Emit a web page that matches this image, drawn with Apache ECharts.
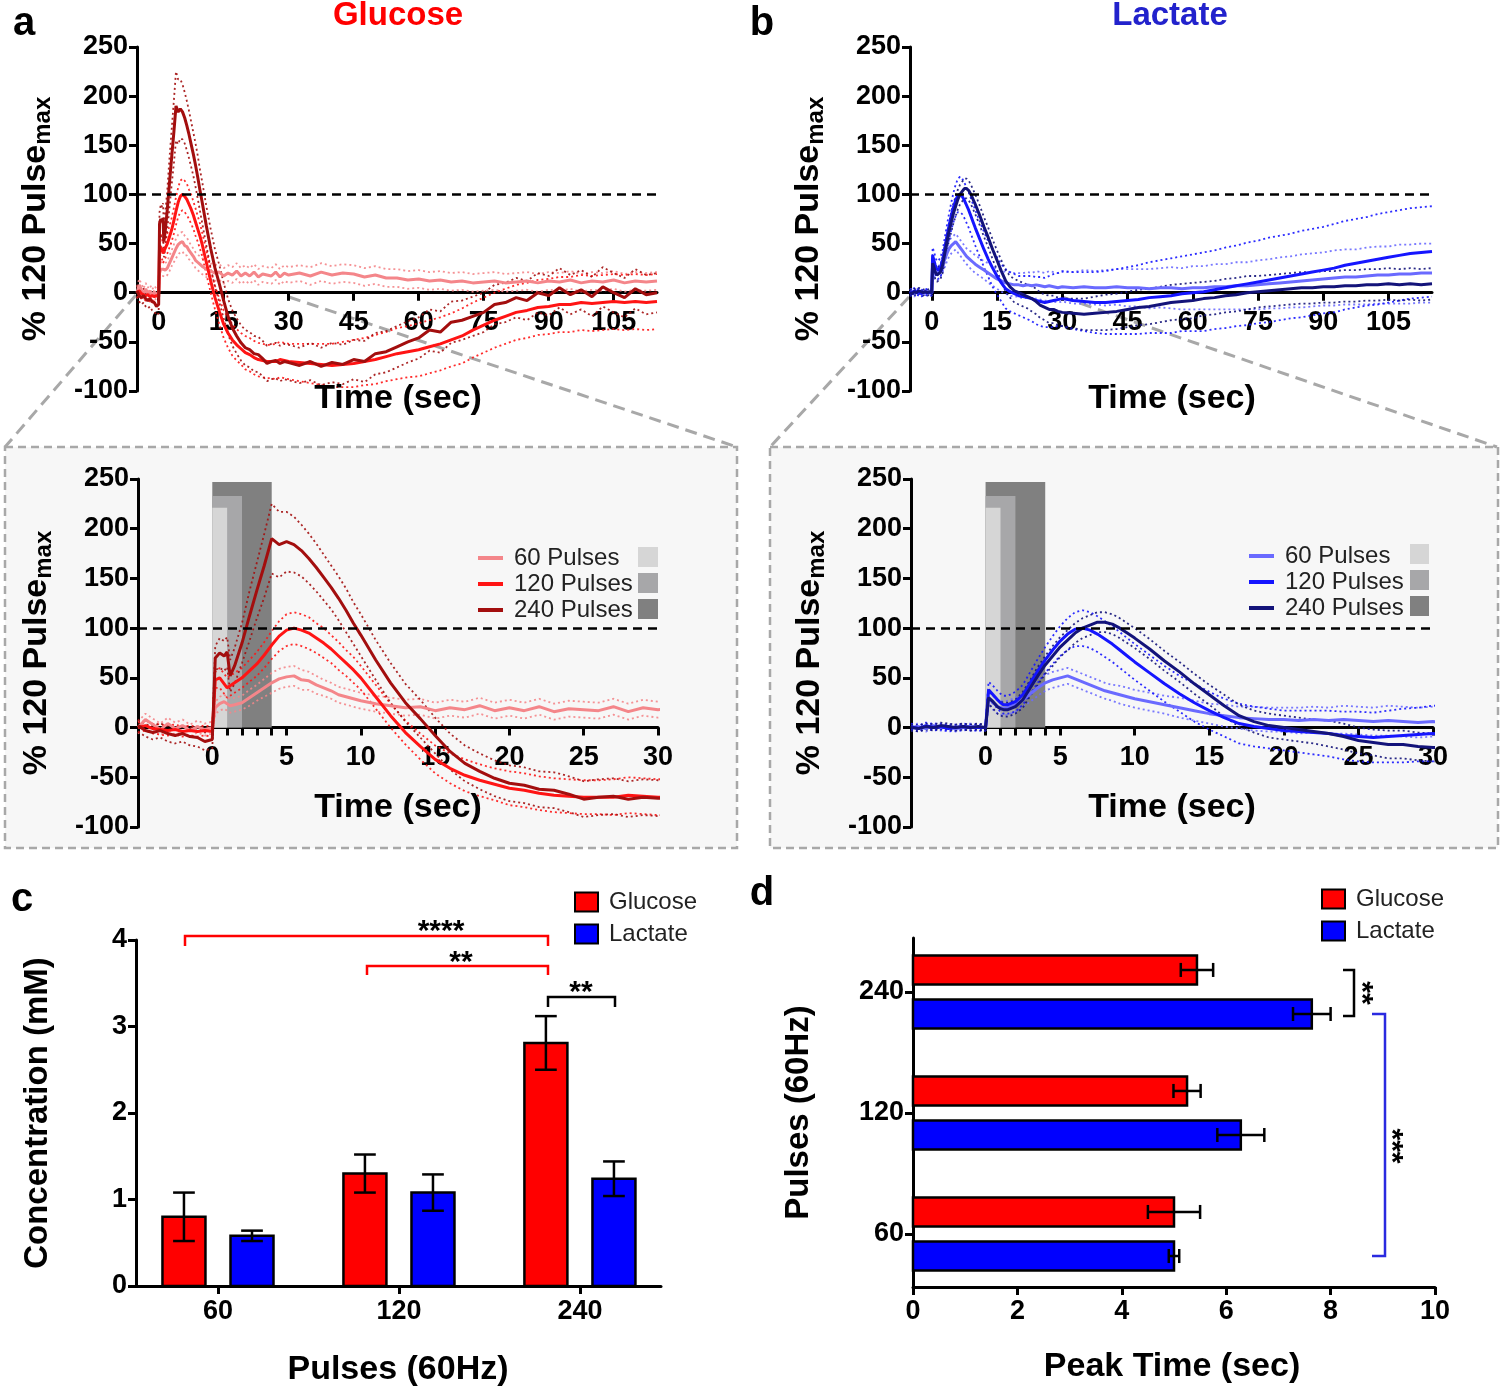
<!DOCTYPE html>
<html><head><meta charset="utf-8">
<script src="https://cdn.jsdelivr.net/npm/echarts@6/dist/echarts.min.js"></script>
<style>html,body{margin:0;padding:0;background:#fff}#c{width:1500px;height:1391px}</style>
</head><body><div id="c"></div><script>
// ---------- DATA ----------
const T = [-5,-4.5,-4,-3.5,-3,-2.5,-2,-1.5,-1,-0.5,0,
  0.2,0.5,0.8,1,1.2,1.5,
  2,2.5,3,3.5,4,4.5,5,5.5,6,6.5,7,7.5,8,8.5,9,9.5,10,
  11,12,13,14,15,16,17,18,19,20,21,22,23,24,25,26,27,28,29,30,
  32.5,35,37.5,40,42.5,45,47.5,50,52.5,55,57.5,60,62.5,65,67.5,70,72.5,75,77.5,80,82.5,85,87.5,90,92.5,95,97.5,100,102.5,105,107.5,110,112.5,115];

// Glucose (% of 120-pulse max)
const G240 = [2,-3,-5,-3,-6,-8,-6,-9,-10,-14,-12,
  70,75,72,76,52,62,
  85,112,138,163,190,184,187,184,178,170,161,151,141,130,118,105,93,
  68,45,25,9,-8,-24,-36,-44,-51,-56,-58,-62,-63,-67,-72,-70,-69,-72,-70,-71,
  -74,-70,-75,-71,-73,-68,-70,-62,-60,-55,-50,-46,-38,-40,-30,-28,-24,-20,-12,-10,-5,-8,0,-3,5,-2,3,-4,6,0,-5,4,-2,0];
const G240s = [6,6,7,7,8,8,8,9,9,9,9,
  12,15,15,15,16,18,
  20,25,28,32,35,33,30,28,26,25,24,23,22,22,22,21,21,
  20,20,19,19,18,18,18,18,18,18,18,18,18,18,18,18,18,18,18,18,
  18,19,19,20,20,20,21,21,21,21,21,21,21,21,21,20,20,20,20,20,20,20,20,20,20,20,20,20,20,20,20,20,20,20];
const G120 = [0,2,-1,-2,-3,-2,-4,-3,-4,-3,-4,
  48,50,44,40,42,45,
  50,57,64,73,83,92,98,100,98,95,90,85,79,72,65,58,50,
  31,12,-5,-19,-32,-41,-48,-53,-57,-61,-63,-66,-68,-69,-70,-70,-70,-68,-69,-70,
  -71,-72,-73,-74,-73,-72,-70,-68,-65,-62,-60,-58,-55,-52,-48,-44,-38,-33,-28,-24,-20,-18,-15,-14,-12,-12,-10,-11,-10,-9,-10,-9,-10,-9];
const G120s = [5,5,5,5,5,5,5,5,5,5,5,
  8,10,10,10,10,10,
  10,11,12,13,14,15,16,16,16,16,15,15,14,14,13,13,12,
  12,12,12,13,14,15,16,16,16,17,17,17,17,17,17,17,18,18,18,18,
  19,20,21,22,23,24,24,25,25,26,26,27,27,27,27,28,28,28,28,28,28,28,28,28,28,28,28,28,28,28,28,28,28,28];
const G60 = [0,8,3,-2,4,-1,2,-3,1,-2,0,
  20,24,26,24,22,23,
  25,30,35,40,45,49,51,52,48,47,43,40,37,33,31,29,27,
  24,22,20,21,17,20,18,22,17,20,17,21,16,19,18,17,21,16,20,18,
  20,17,21,18,20,19,16,18,15,15,13,14,12,13,11,12,10,11,12,10,11,12,10,12,11,13,10,12,11,13,10,12,11,12];
const G60s = [6,6,6,6,6,6,6,6,6,6,6,
  6,7,7,7,7,7,
  7,8,8,9,10,10,10,10,10,9,9,8,8,8,8,8,8,
  8,8,8,8,8,8,8,8,8,8,8,8,8,8,8,8,8,8,8,8,
  8,9,9,9,9,9,9,9,9,9,9,9,9,9,9,9,9,9,9,9,9,9,9,9,9,9,9,9,9,9,9,9,9,9];

// Lactate (% of 120-pulse max)
const L240 = [0,-1,1,0,2,1,0,1,0,1,0,
  30,26,21,19,18,18,
  21,28,40,52,63,72,81,88,95,100,103,106,106,104,100,95,90,
  79,67,56,44,33,22,12,6,2,0,-2,-4,-6,-9,-13,-15,-17,-17,-19,-20,
  -21,-22,-21,-20,-19,-17,-15,-14,-12,-10,-9,-8,-6,-5,-3,-2,0,1,2,3,4,5,5,6,6,7,7,8,8,9,8,9,8,9];
const L240s = [3,3,3,3,3,3,3,3,3,3,3,
  6,7,7,7,7,7,
  7,8,8,9,9,10,10,10,10,10,10,10,10,10,10,10,10,
  10,10,10,10,10,11,11,11,12,12,12,12,13,13,13,13,14,14,14,14,
  15,16,17,18,18,18,18,18,18,18,18,18,17,17,17,17,17,16,16,16,16,16,16,16,16,16,16,16,16,16,16,16,16,16];
const L120 = [1,-1,2,0,1,-1,0,1,0,0,0,
  38,33,28,25,23,23,
  26,33,45,57,68,78,87,94,99,100,98,94,89,84,78,72,66,
  55,44,34,25,17,10,4,1,-1,-3,-4,-5,-6,-8,-9,-10,-9,-8,-7,-6,
  -8,-9,-10,-10,-9,-8,-7,-5,-4,-3,-1,0,1,3,5,7,9,11,13,15,17,19,21,23,25,28,30,32,34,36,38,40,41,42];
const L120s = [3,3,3,3,3,3,3,3,3,3,3,
  8,9,9,9,9,9,
  10,10,11,12,13,14,15,16,17,18,18,18,18,18,18,18,18,
  18,18,18,19,19,19,20,20,20,20,21,22,23,24,25,25,26,27,27,28,
  29,30,31,32,33,34,35,36,37,38,38,39,40,40,41,41,42,42,43,43,43,44,44,44,45,45,45,45,46,46,46,46,46,46];
const L60 = [0,1,-1,2,0,1,-1,0,1,0,0,
  30,25,21,20,19,20,
  23,28,34,40,45,48,50,52,49,46,43,40,37,35,33,31,29,
  26,23,20,17,14,12,10,9,8,8,7,8,7,8,7,6,7,6,5,6,
  5,6,5,5,6,5,5,4,5,5,4,5,5,6,6,7,7,8,9,10,11,12,13,14,15,16,16,17,18,18,19,19,20,20];
const L60s = [3,3,3,3,3,3,3,3,3,3,3,
  6,7,7,7,7,7,
  7,7,8,8,8,8,8,8,8,8,8,8,8,8,9,9,9,
  9,9,10,10,10,11,11,12,12,12,13,13,13,14,14,14,15,15,15,15,
  16,17,17,18,18,19,19,20,20,21,21,22,22,23,23,24,24,25,25,26,26,27,27,27,28,28,28,29,29,29,30,30,30,30];

// stimulation windows (sec) and drawn heights
const stimDur = [4, 2, 1];
const stimTop = [247, 233, 221];

// panel c: concentration (mM)
const cats = ['60', '120', '240'];
const cGluMean = [0.80, 1.30, 2.81];
const cGluSem  = [0.28, 0.22, 0.31];
const cLacMean = [0.58, 1.08, 1.24];
const cLacSem  = [0.06, 0.21, 0.20];
// panel d: peak time (sec)
const dGluMean = [5.00, 5.25, 5.44];
const dGluSem  = [0.50, 0.26, 0.31];
const dLacMean = [5.00, 6.28, 7.64];
const dLacSem  = [0.10, 0.45, 0.36];

const topTicks = [0, 15, 30, 45, 60, 75, 90, 105];
const insetLabels = [0, 5, 10, 15, 20, 25, 30];
const insetTicks = [0, 1, 2, 3, 4, 5, 10, 15, 20, 25, 30];

// ---------- STYLE ----------
const FONT = '"Liberation Sans", Arial, sans-serif';
const COL = {G60:'#f4868a', G120:'#ff1414', G240:'#a30e0e', L60:'#6a6aff', L120:'#1515ff', L240:'#13137a'};
const NAMES = {G60:'60 Pulses', G120:'120 Pulses', G240:'240 Pulses', L60:'60 Pulses', L120:'120 Pulses', L240:'240 Pulses', cG:'Glucose', cL:'Lactate', dG:'Glucose', dL:'Lactate'};
const STIM_COL = ['#808080', '#a7a7a9', '#d6d6d6'];
const RED = '#ff0000', BLUE = '#0000ff';
const TICK_FS = 27, TITLE_FS = 34;

const grids = [
  {left:137, top:47, width:520, height:344},   // a top
  {left:910, top:47, width:522, height:344},   // b top
  {left:138, top:479, width:520, height:348},  // a inset
  {left:911, top:479, width:522, height:348},  // b inset
  {left:136, top:940, width:525, height:346},  // c
  {left:913, top:938, width:522, height:349}   // d
];

const axTick = {show:true, length:8, lineStyle:{color:'#000', width:3}};
const lab = (m) => ({color:'#000', fontSize:TICK_FS, fontWeight:'bold', fontFamily:FONT, margin:m});
const yName = {
  name:'{a|% 120 Pulse}{b|max}', nameLocation:'middle', nameRotate:90, nameGap:82,
  nameTextStyle:{rich:{
    a:{fontSize:34, fontWeight:'bold', fontFamily:FONT, color:'#000'},
    b:{fontSize:24, fontWeight:'bold', fontFamily:FONT, color:'#000', padding:[14,0,0,0]}
  }}
};

// x axis of a line panel, shifted up so that it sits on y = 0
function lineX(gi, max, ticks, labels) {
  const g = grids[gi];
  const zeroShift = g.height * 100 / 350;
  return {type:'value', gridIndex:gi, min:-5, max:max, offset:-zeroShift,
    axisLine:{show:true, onZero:false, lineStyle:{color:'#000', width:3}},
    axisTick:Object.assign({}, axTick, {customValues:ticks}),
    axisLabel:Object.assign(lab(16), {customValues:labels}),
    splitLine:{show:false}};
}
function lineY(gi) {
  return Object.assign({type:'value', gridIndex:gi, min:-100, max:250, interval:50,
    axisLine:{show:true, onZero:false, lineStyle:{color:'#000', width:3}},
    axisTick:axTick, axisLabel:lab(9), splitLine:{show:false}}, yName);
}

const xAxis = [
  lineX(0, 115, topTicks, topTicks),
  lineX(1, 115, topTicks, topTicks),
  lineX(2, 30, insetTicks, insetLabels),
  lineX(3, 30, insetTicks, insetLabels),
  {type:'value', gridIndex:4, min:-0.453, max:2.448,
    axisLine:{show:true, onZero:false, lineStyle:{color:'#000', width:3}},
    axisTick:Object.assign({}, axTick, {customValues:[0,1,2]}),
    axisLabel:Object.assign(lab(12), {customValues:[0,1,2], formatter:v=>cats[Math.round(v)]}),
    splitLine:{show:false}},
  {type:'value', gridIndex:5, min:0, max:10, interval:2,
    axisLine:{show:true, onZero:false, lineStyle:{color:'#000', width:3}},
    axisTick:axTick, axisLabel:lab(11), splitLine:{show:false}}
];
const yAxis = [
  lineY(0), lineY(1), lineY(2), lineY(3),
  {type:'value', gridIndex:4, min:0, max:4, interval:1,
    axisLine:{show:true, onZero:false, lineStyle:{color:'#000', width:3}},
    axisTick:axTick, axisLabel:lab(9), splitLine:{show:false},
    name:'Concentration (mM)', nameLocation:'middle', nameRotate:90, nameGap:82,
    nameTextStyle:{fontSize:33, fontWeight:'bold', fontFamily:FONT, color:'#000'}},
  {type:'value', gridIndex:5, min:-0.438, max:2.446,
    axisLine:{show:true, onZero:false, lineStyle:{color:'#000', width:3}},
    axisTick:Object.assign({}, axTick, {customValues:[0,1,2]}),
    axisLabel:Object.assign(lab(9), {customValues:[0,1,2], formatter:v=>cats[Math.round(v)]}),
    splitLine:{show:false},
    name:'Pulses (60Hz)', nameLocation:'middle', nameRotate:90, nameGap:98,
    nameTextStyle:{fontSize:33, fontWeight:'bold', fontFamily:FONT, color:'#000'}}
];

const series = [];
const refLine = {silent:true, symbol:'none', label:{show:false}, animation:false,
  lineStyle:{type:[9,6], color:'#000', width:2.5}, data:[{yAxis:100}]};

function stimSeries(gi) {
  series.push({type:'custom', xAxisIndex:gi, yAxisIndex:gi, z:1, silent:true,
    data: stimDur.map((d,i)=>[d, stimTop[i]]),
    renderItem:(p, api)=>{
      const a = api.coord([0,0]), b = api.coord([api.value(0), api.value(1)]);
      return {type:'rect', shape:{x:a[0], y:b[1], width:b[0]-a[0], height:a[1]-b[1]},
        style:{fill:STIM_COL[p.dataIndex]}};
    }});
}
function addLines(key, mean, sem, gi, first) {
  [-1, 1].forEach((sg, k) => {
    const s = {type:'line', name:key+(sg>0?'_u':'_l'), xAxisIndex:gi, yAxisIndex:gi,
      data:T.map((t,i)=>[t, mean[i] + sg*sem[i]]), symbol:'none', silent:true, z:2,
      itemStyle:{color:COL[key]}, lineStyle:{color:COL[key], width:1.8, type:[2,3], opacity:0.9}};
    if (first && k === 0) s.markLine = refLine;
    series.push(s);
  });
  series.push({type:'line', name:key, xAxisIndex:gi, yAxisIndex:gi,
    data:T.map((t,i)=>[t, mean[i]]), symbol:'none', silent:true, z:3,
    itemStyle:{color:COL[key]}, lineStyle:{color:COL[key], width:3}});
}
stimSeries(2); stimSeries(3);
[0, 2].forEach(gi => {
  addLines('G60', G60, G60s, gi, true);
  addLines('G120', G120, G120s, gi, false);
  addLines('G240', G240, G240s, gi, false);
});
[1, 3].forEach(gi => {
  addLines('L60', L60, L60s, gi, true);
  addLines('L120', L120, L120s, gi, false);
  addLines('L240', L240, L240s, gi, false);
});

// bars with error bars
const C_OFF = 0.188, C_W = 0.2376, C_CAP = 0.12;
const D_OFF = 0.182, D_H = 0.24, D_CAP = 0.116;
const ERR = {stroke:'#000', lineWidth:2.5};
function vBar(off, color) {
  return (p, api) => {
    const x = api.value(0) + off, m = api.value(1), s = api.value(2);
    const b = api.coord([x,0]), t = api.coord([x,m]);
    const et = api.coord([x,m+s]), eb = api.coord([x,m-s]);
    const w = api.size([C_W,0])[0], cw = api.size([C_CAP,0])[0];
    return {type:'group', children:[
      {type:'rect', shape:{x:b[0]-w/2, y:t[1], width:w, height:b[1]-t[1]}, style:{fill:color, stroke:'#000', lineWidth:2.5}},
      {type:'line', shape:{x1:t[0], y1:eb[1], x2:t[0], y2:et[1]}, style:ERR},
      {type:'line', shape:{x1:t[0]-cw/2, y1:et[1], x2:t[0]+cw/2, y2:et[1]}, style:ERR},
      {type:'line', shape:{x1:t[0]-cw/2, y1:eb[1], x2:t[0]+cw/2, y2:eb[1]}, style:ERR}
    ]};
  };
}
function hBar(off, color) {
  return (p, api) => {
    const y = api.value(0) + off, m = api.value(1), s = api.value(2);
    const a = api.coord([0,y]), b = api.coord([m,y]);
    const el = api.coord([m-s,y]), er = api.coord([m+s,y]);
    const h = api.size([0,D_H])[1], ch = api.size([0,D_CAP])[1];
    return {type:'group', children:[
      {type:'rect', shape:{x:a[0], y:a[1]-h/2, width:b[0]-a[0], height:h}, style:{fill:color, stroke:'#000', lineWidth:2.5}},
      {type:'line', shape:{x1:el[0], y1:b[1], x2:er[0], y2:b[1]}, style:ERR},
      {type:'line', shape:{x1:el[0], y1:b[1]-ch/2, x2:el[0], y2:b[1]+ch/2}, style:ERR},
      {type:'line', shape:{x1:er[0], y1:b[1]-ch/2, x2:er[0], y2:b[1]+ch/2}, style:ERR}
    ]};
  };
}
series.push({type:'custom', name:'cG', xAxisIndex:4, yAxisIndex:4, silent:true, itemStyle:{color:RED},
  encode:{x:0, y:1}, data:cats.map((c,i)=>[i, cGluMean[i], cGluSem[i]]), renderItem:vBar(-C_OFF, RED)});
series.push({type:'custom', name:'cL', xAxisIndex:4, yAxisIndex:4, silent:true, itemStyle:{color:BLUE},
  encode:{x:0, y:1}, data:cats.map((c,i)=>[i, cLacMean[i], cLacSem[i]]), renderItem:vBar(C_OFF, BLUE)});
series.push({type:'custom', name:'dG', xAxisIndex:5, yAxisIndex:5, silent:true, itemStyle:{color:RED},
  encode:{x:1, y:0}, data:cats.map((c,i)=>[i, dGluMean[i], dGluSem[i]]), renderItem:hBar(D_OFF, RED)});
series.push({type:'custom', name:'dL', xAxisIndex:5, yAxisIndex:5, silent:true, itemStyle:{color:BLUE},
  encode:{x:1, y:0}, data:cats.map((c,i)=>[i, dLacMean[i], dLacSem[i]]), renderItem:hBar(-D_OFF, BLUE)});

const legTxt = {fontSize:24, fontFamily:FONT, color:'#222', padding:[0,0,0,6]};
const legend = [
  {left:473, top:541, orient:'vertical', icon:'rect', itemWidth:25, itemHeight:4, itemGap:2, selectedMode:false,
    data:['G60','G120','G240'], formatter:n=>NAMES[n], textStyle:legTxt},
  {left:1244, top:539, orient:'vertical', icon:'rect', itemWidth:25, itemHeight:4, itemGap:2, selectedMode:false,
    data:['L60','L120','L240'], formatter:n=>NAMES[n], textStyle:legTxt},
  {left:569, top:885, orient:'vertical', icon:'rect', itemWidth:23, itemHeight:19, itemGap:8, selectedMode:false,
    itemStyle:{borderColor:'#000', borderWidth:2}, data:['cG','cL'], formatter:n=>NAMES[n], textStyle:legTxt},
  {left:1316, top:882, orient:'vertical', icon:'rect', itemWidth:23, itemHeight:19, itemGap:8, selectedMode:false,
    itemStyle:{borderColor:'#000', borderWidth:2}, data:['dG','dL'], formatter:n=>NAMES[n], textStyle:legTxt}
];

// ---------- ANNOTATIONS ----------
function txt(x, y, s, font, fill, rot, va) {
  return {type:'text', x:x, y:y, rotation:rot||0, z:10, silent:true,
    style:{text:s, font:font, fill:fill||'#000', textAlign:'center', textVerticalAlign:va||'middle', align:'center', verticalAlign:va||'middle'}};
}
const DASH = {stroke:'#a8a8a8', lineWidth:3, lineDash:[12,7]};
function seg(x1,y1,x2,y2, st) { return {type:'line', z:-1, silent:true, shape:{x1,y1,x2,y2}, style:st}; }
function poly(pts, color, w) { return {type:'polyline', z:10, silent:true, shape:{points:pts}, style:{stroke:color, lineWidth:w||2.5, fill:null}}; }
const BOLD = (s) => 'bold ' + s + 'px ' + FONT;
const graphic = [
  {type:'rect', z:-2, silent:true, shape:{x:5, y:447, width:732, height:401}, style:{fill:'#f7f7f7', stroke:'#a8a8a8', lineWidth:2.5, lineDash:[8,5]}},
  {type:'rect', z:-2, silent:true, shape:{x:770, y:447, width:728, height:401}, style:{fill:'#f7f7f7', stroke:'#a8a8a8', lineWidth:2.5, lineDash:[8,5]}},
  seg(136,295,5,447,DASH), seg(289,297,737,447,DASH),
  seg(909,297,770,447,DASH), seg(1062,297,1497,447,DASH),
  // legend swatches for stimulation shading
  {type:'rect', z:10, silent:true, shape:{x:638, y:547, width:20, height:20}, style:{fill:STIM_COL[2]}},
  {type:'rect', z:10, silent:true, shape:{x:638, y:573, width:20, height:20}, style:{fill:STIM_COL[1]}},
  {type:'rect', z:10, silent:true, shape:{x:638, y:599, width:20, height:20}, style:{fill:STIM_COL[0]}},
  {type:'rect', z:10, silent:true, shape:{x:1410, y:544, width:19, height:20}, style:{fill:STIM_COL[2]}},
  {type:'rect', z:10, silent:true, shape:{x:1410, y:570, width:19, height:20}, style:{fill:STIM_COL[1]}},
  {type:'rect', z:10, silent:true, shape:{x:1410, y:596, width:19, height:20}, style:{fill:STIM_COL[0]}},
  // panel letters and titles
  txt(24, 24, 'a', BOLD(40)), txt(762, 24, 'b', BOLD(40)),
  txt(22, 900, 'c', BOLD(40)), txt(762, 894, 'd', BOLD(40)),
  txt(398, 16, 'Glucose', BOLD(33), '#ff0000'), txt(1170, 16, 'Lactate', BOLD(33), '#2222cc'),
  txt(398, 399, 'Time (sec)', BOLD(TITLE_FS)), txt(1172, 399, 'Time (sec)', BOLD(TITLE_FS)),
  txt(398, 808, 'Time (sec)', BOLD(TITLE_FS)), txt(1172, 808, 'Time (sec)', BOLD(TITLE_FS)),
  txt(398, 1370, 'Pulses (60Hz)', BOLD(TITLE_FS)), txt(1172, 1367, 'Peak Time (sec)', BOLD(TITLE_FS)),
  // significance brackets (c)
  poly([[185,946],[185,936],[548,936],[548,946]], '#ff0000'),
  poly([[367,975],[367,966],[548,966],[548,975]], '#ff0000'),
  poly([[548,1007],[548,997],[615,997],[615,1007]], '#000'),
  txt(441, 947, '****', BOLD(30), '#000', 0, 'bottom'),
  txt(461, 978, '**', BOLD(30), '#000', 0, 'bottom'),
  txt(581, 1008, '**', BOLD(30), '#000', 0, 'bottom'),
  // significance brackets (d)
  poly([[1343,970],[1354,970],[1354,1016],[1343,1016]], '#000'),
  poly([[1372,1014],[1385,1014],[1385,1256],[1372,1256]], '#2a2ae0'),
  txt(1361, 993, '**', BOLD(30), '#000', -Math.PI/2),
  txt(1391, 1146, '***', BOLD(30), '#000', -Math.PI/2)
];

const chart = echarts.init(document.getElementById('c'), null, {renderer:'canvas'});
chart.setOption({animation:false, backgroundColor:'#fff', grid:grids, xAxis:xAxis, yAxis:yAxis,
  series:series, legend:legend, graphic:graphic});
</script></body></html>
